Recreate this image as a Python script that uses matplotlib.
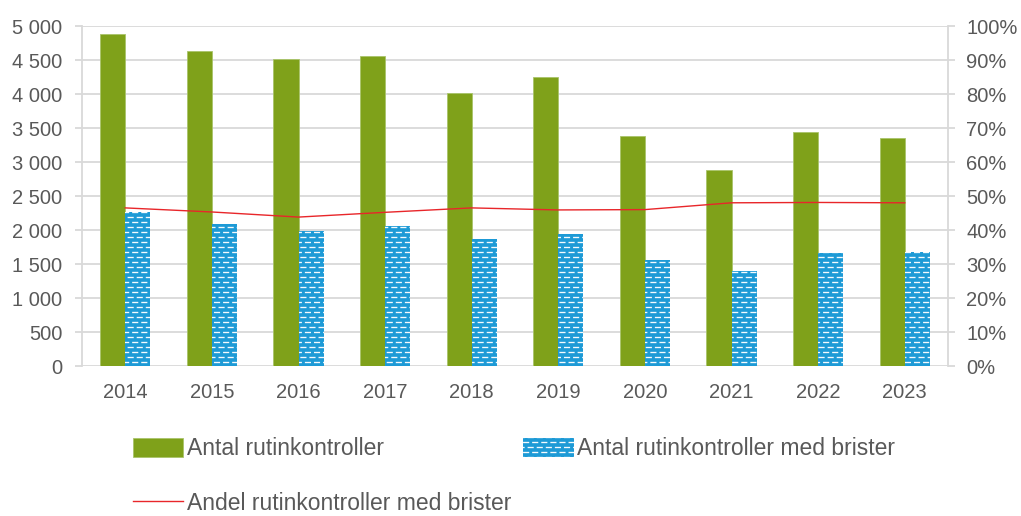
import matplotlib
matplotlib.use("Agg")
import matplotlib.pyplot as plt
import numpy as np
from matplotlib.patches import Patch
from matplotlib.lines import Line2D
from matplotlib import hatch as mhatch
from matplotlib.path import Path

plt.rcParams['font.family'] = ['Liberation Sans', 'DejaVu Sans']
plt.rcParams['hatch.linewidth'] = 0.95

years = ['2014', '2015', '2016', '2017', '2018', '2019', '2020', '2021', '2022', '2023']
antal = [4880, 4630, 4515, 4560, 4015, 4250, 3380, 2880, 3440, 3355]
brister = [2265, 2090, 1985, 2060, 1870, 1940, 1560, 1395, 1660, 1675]
andel = [46.5, 45.3, 43.8, 45.2, 46.5, 45.9, 46.0, 48.0, 48.1, 48.0]

green = '#7FA11A'
blue = '#1D9AD6'
red = '#E8262A'
textc = '#595959'
gridc = '#D9D9D9'


class BrickDashes(mhatch.HatchPatternBase):
    """Brick-like pattern of short horizontal dashes, used for the '.' hatch."""
    def __init__(self, hatch, density):
        self.on = hatch.count('.') > 0
        rows, cols, dash = 20, 11, 0.048
        segs = []
        if self.on:
            for r in range(rows):
                y = (r + 0.5) / rows
                off = 0.01 if r % 2 == 0 else 0.01 + 0.5 / cols
                for c in range(cols):
                    x0 = off + c / cols
                    x1 = x0 + dash
                    if x1 <= 1.0:
                        segs.append((x0, x1, y))
                    else:
                        segs.append((x0, 1.0, y))
                        segs.append((0.0, x1 - 1.0, y))
        self.segs = segs
        self.num_vertices = 2 * len(segs)

    def set_vertices_and_codes(self, vertices, codes):
        for i, (x0, x1, y) in enumerate(self.segs):
            vertices[2 * i] = (x0, y)
            vertices[2 * i + 1] = (x1, y)
            codes[2 * i] = Path.MOVETO
            codes[2 * i + 1] = Path.LINETO


mhatch._hatch_types = [t for t in mhatch._hatch_types
                       if t is not mhatch.SmallFilledCircles] + [BrickDashes]

fig = plt.figure(figsize=(10.21, 5.16), dpi=100)
ax = fig.add_axes([82 / 1021, 1 - 366 / 516, 866 / 1021, 340 / 516])
x = np.arange(len(years))
w = 0.29
ax.bar(x - w/2, antal, w, color=green, edgecolor='#A9C46A', linewidth=0.6, zorder=3)
ax.bar(x + w/2, brister, w, color=blue, edgecolor='#F4FAFD', linewidth=0, hatch='.', zorder=3)
ax.set_xlim(-0.5, len(years) - 0.5)
ax.set_ylim(0, 5000)
ax.set_yticks(np.arange(0, 5001, 500))
ax.set_yticklabels([f'{v:,}'.replace(',', ' ') for v in range(0, 5001, 500)])
ax.set_xticks(x)
ax.set_xticklabels(years)
ax.grid(axis='y', color=gridc, linewidth=1.3, zorder=0)
for s in ['top', 'bottom', 'right']:
    ax.spines[s].set_visible(False)
ax.spines['left'].set_color(gridc)
ax.spines['left'].set_linewidth(1.3)
ax.tick_params(axis='y', colors=gridc, labelcolor=textc, labelsize=14.5, length=5, width=1.3, pad=9)
ax.tick_params(axis='x', length=0, labelcolor=textc, labelsize=14.5, pad=12.5)

ax2 = ax.twinx()
ax2.plot(x, andel, color=red, linewidth=1.0, zorder=4)
ax2.set_ylim(0, 100)
ax2.set_yticks(np.arange(0, 101, 10))
ax2.set_yticklabels([f'{v}%' for v in range(0, 101, 10)])
for s in ['top', 'bottom', 'left']:
    ax2.spines[s].set_visible(False)
ax2.spines['right'].set_color(gridc)
ax2.spines['right'].set_linewidth(1.3)
ax2.tick_params(axis='y', colors=gridc, labelcolor=textc, labelsize=14.5, length=5, width=1.3, pad=8)

handles = [Patch(facecolor=green, edgecolor='#A9C46A', linewidth=0.6),
           Line2D([], [], color=red, linewidth=1.0),
           Patch(facecolor=blue, edgecolor='#F4FAFD', hatch='.', linewidth=0)]
labels = ['Antal rutinkontroller', 'Andel rutinkontroller med brister',
          'Antal rutinkontroller med brister']
leg = fig.legend(handles, labels, ncol=2, loc='upper left', bbox_to_anchor=(133 / 1021, 1 - 437 / 516),
                 frameon=False, fontsize=16.5, handlelength=2.2, handleheight=0.9,
                 handletextpad=0.17, labelspacing=1.4, columnspacing=0.5,
                 borderpad=0, borderaxespad=0)
for t in leg.get_texts():
    t.set_color(textc)

fig.savefig('out.png', dpi=100)
